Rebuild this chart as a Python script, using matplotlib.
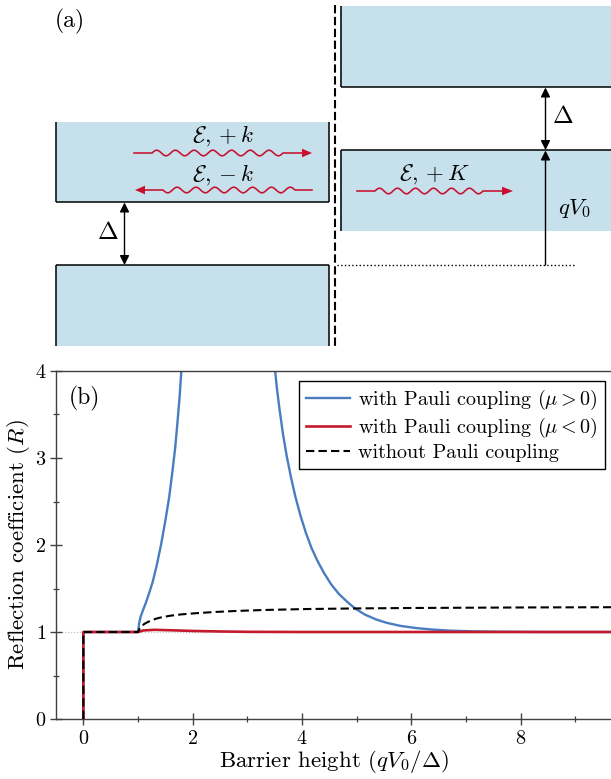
import numpy as np
import matplotlib
matplotlib.use("Agg")
from matplotlib import pyplot as plt
from matplotlib.patches import Rectangle, Polygon
from matplotlib.ticker import MultipleLocator

plt.rcParams['font.family'] = 'serif'
plt.rcParams['font.serif'] = ['cmr10']
plt.rcParams['mathtext.fontset'] = 'cm'
plt.rcParams['axes.formatter.use_mathtext'] = True
plt.rcParams['axes.unicode_minus'] = False

# reflection coefficient vs barrier height
blue_x = [0.0, 0.0, 1.0, 1.02, 1.05, 1.09, 1.14, 1.20, 1.27, 1.34, 1.42, 1.50, 1.57,
          1.63, 1.68, 1.72, 1.76, 1.79, 1.82,
          np.nan,
          3.47, 3.50, 3.54, 3.59, 3.65, 3.72, 3.80, 3.88, 3.97, 4.07, 4.17, 4.28, 4.40,
          4.53, 4.67, 4.82, 4.97, 5.15, 5.35, 5.55, 5.8, 6.09, 6.4, 6.70, 7.1, 7.62,
          8.5, 9.7]
blue_r = [0.0, 1.0, 1.0, 1.10, 1.18, 1.25, 1.33, 1.44, 1.58, 1.76, 2.00, 2.28, 2.55,
          2.85, 3.12, 3.40, 3.70, 3.98, 4.3,
          np.nan,
          4.3, 4.05, 3.80, 3.55, 3.28, 3.02, 2.77, 2.55, 2.34, 2.14, 1.97, 1.82, 1.68,
          1.55, 1.44, 1.35, 1.27, 1.20, 1.145, 1.105, 1.07, 1.045, 1.027, 1.016,
          1.008, 1.003, 1.0, 1.0]

red_x = [0.0, 0.0, 1.0, 1.1, 1.3, 1.6, 2.0, 2.5, 3.0, 4.0, 9.7]
red_r = [0.0, 1.0, 1.0, 1.018, 1.025, 1.02, 1.012, 1.006, 1.002, 1.0, 1.0]

black_x = [0.0, 0.0, 1.0, 1.03, 1.07, 1.12, 1.18, 1.25, 1.34, 1.45, 1.6, 1.8, 2.06,
           2.4, 2.8, 3.3, 4.08, 5.0, 6.0, 7.0, 8.0, 9.7]
black_r = [0.0, 1.0, 1.0, 1.04, 1.07, 1.095, 1.115, 1.135, 1.155, 1.172, 1.188, 1.203,
           1.216, 1.23, 1.242, 1.253, 1.264, 1.271, 1.276, 1.279, 1.282, 1.285]

labels = [r'with Pauli coupling ($\mu>0$)', r'with Pauli coupling ($\mu<0$)',
          'without Pauli coupling']

blue = '#4a7dc0'
red = '#c41a2e'
band = '#c6e0ec'
wave_red = '#c8102e'

fig = plt.figure(figsize=(6.11, 7.79), dpi=100)

# ---- (a) band diagram, drawn in pixel units ----
H = 355
axa = fig.add_axes([0, 1 - H / 779, 1, H / 779])
axa.set_xlim(0, 611)
axa.set_ylim(H, 0)
axa.axis('off')

for (x0, y0, x1, y1) in [(56, 122, 329, 202), (56, 265, 329, 346),
                         (340, 6, 611, 87), (340, 150, 611, 231)]:
    axa.add_patch(Rectangle((x0, y0), x1 - x0, y1 - y0, color=band, lw=0, zorder=1))

lk = dict(color='k', lw=1.1, zorder=3, solid_capstyle='butt')
# left upper block
axa.plot([56, 56], [122, 202], **lk)
axa.plot([329, 329], [122, 202], **lk)
axa.plot([56, 329], [202, 202], **lk)
# left lower block
axa.plot([56, 329], [265, 265], **lk)
axa.plot([56, 56], [265, 346], **lk)
axa.plot([329, 329], [265, 346], **lk)
# right upper block
axa.plot([340.5, 340.5], [6, 87], **lk)
axa.plot([340.5, 611], [87, 87], **lk)
# right lower block
axa.plot([340.5, 611], [150, 150], **lk)
axa.plot([340.5, 340.5], [150, 231], **lk)

# interface and reference level
axa.plot([334.5, 334.5], [5, 348], color='k', lw=1.5, ls='--', dashes=(4, 1.7), zorder=4)
axa.plot([337, 574], [265, 265], color='k', lw=1.0, ls=':', zorder=3)

ap = dict(color='k', lw=1.0, shrinkA=0, shrinkB=0, mutation_scale=14)
axa.annotate('', xy=(124.5, 202.5), xytext=(124.5, 265),
             arrowprops=dict(arrowstyle='<|-|>', **ap))
axa.annotate('', xy=(545.5, 87.5), xytext=(545.5, 150),
             arrowprops=dict(arrowstyle='<|-|>', **ap))
axa.annotate('', xy=(545.5, 150.5), xytext=(545.5, 265),
             arrowprops=dict(arrowstyle='-|>', **ap))


def wavy(xa, xb, xc, xd, xe, y):
    # straight tail xa-xb, wiggle xb-xc, straight xc-xd, head xd-xe
    n = max(1, round(abs(xc - xb) / 18.0))
    t = np.linspace(0, 1, 200)
    xw = xb + (xc - xb) * t
    yw = y - 2.8 * np.sin(2 * np.pi * n * t)
    xs = np.concatenate([[xa], xw, [xd]])
    ys = np.concatenate([[y], yw, [y]])
    axa.plot(xs, ys, color=wave_red, lw=1.15, zorder=5)
    axa.add_patch(Polygon([(xd, y - 4.3), (xe, y), (xd, y + 4.3)], closed=True,
                          color=wave_red, lw=0, zorder=5))


wavy(134, 152, 283, 302, 312, 153)
wavy(312, 295, 163, 145, 135, 190)
wavy(357, 375, 483, 502, 513, 191)

tk = dict(fontsize=16.5, ha='center', va='center', zorder=6)
axa.text(223, 136, r'$\mathcal{E},+k$', **tk)
axa.text(223, 175, r'$\mathcal{E},-k$', **tk)
axa.text(434, 174, r'$\mathcal{E},+K$', **tk)
axa.text(108, 233, r'$\Delta$', fontsize=18, ha='center', va='center')
axa.text(563, 117, r'$\Delta$', fontsize=18, ha='center', va='center')
axa.text(574, 209, r'$qV_0$', **tk)
axa.text(70, 21, '(a)', fontsize=17, ha='center', va='center')

# ---- (b) reflection coefficient ----
ax = fig.add_axes([56 / 611, (779 - 719) / 779, (611 - 56) / 611, (719 - 371) / 779])
ax.axhline(1.0, color='#b8b8b8', ls=':', lw=0.8, zorder=1)
ax.plot(blue_x, blue_r, color=blue, lw=1.7, zorder=2, label=labels[0])
ax.plot(red_x, red_r, color=red, lw=1.9, zorder=3, label=labels[1])
ax.plot(black_x, black_r, color='k', lw=1.5, ls='--', dashes=(4, 2), zorder=4,
        label=labels[2])

ax.set_xlim(-0.5, 9.65)
ax.set_ylim(0, 4)
ax.xaxis.set_major_locator(MultipleLocator(2))
ax.xaxis.set_minor_locator(MultipleLocator(1))
ax.yaxis.set_major_locator(MultipleLocator(1))
ax.yaxis.set_minor_locator(MultipleLocator(0.5))
ax.spines['right'].set_visible(False)
for s in ['left', 'bottom', 'top']:
    ax.spines[s].set_color('#404040')
    ax.spines[s].set_linewidth(1.0)
ax.tick_params(which='both', direction='inout', top=False, right=False,
               color='#404040', labelsize=14.5)
ax.tick_params(which='major', length=8, width=1.0)
ax.tick_params(which='minor', length=4, width=0.9)
ax.tick_params(axis='x', pad=4)
ax.tick_params(axis='y', pad=3)

ax.set_xlabel(r'Barrier height ($qV_0/\Delta$)', fontsize=16.5, labelpad=0)
ax.set_ylabel(r'Reflection coefficient ($R$)', fontsize=16.5, labelpad=2)
ax.text(0.052, 0.92, '(b)', transform=ax.transAxes, fontsize=17, ha='center',
        va='center')

leg = ax.legend(loc='upper right', bbox_to_anchor=(0.989, 0.972), borderaxespad=0,
                fontsize=14.5, fancybox=False, framealpha=1, edgecolor='k',
                handlelength=2.2, handletextpad=0.4, labelspacing=0.2,
                borderpad=0.35)
leg.get_frame().set_linewidth(1.0)

fig.savefig('out.png', dpi=100)
